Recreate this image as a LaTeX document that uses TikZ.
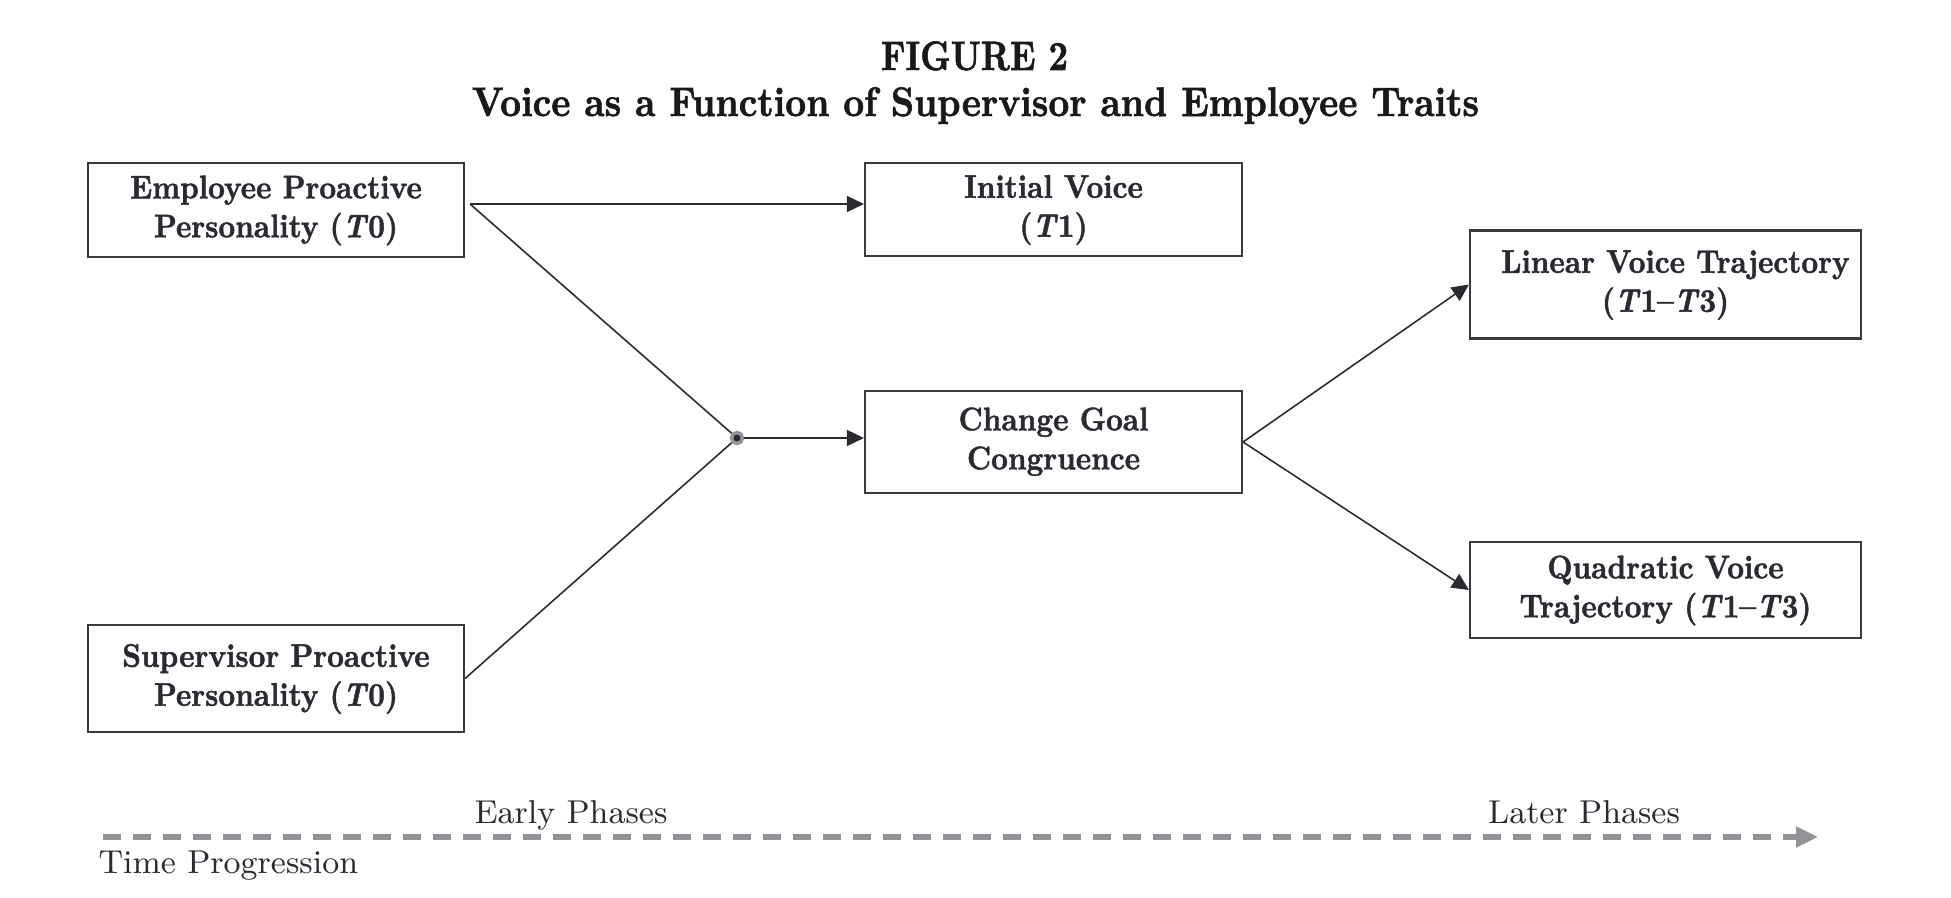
\documentclass[tikz,border=0pt]{standalone}
\usepackage{graphicx}
\usepackage{fontspec}
\usetikzlibrary{arrows.meta}
\newfontfamily\boxfont{lmroman10-bold.otf}[Ligatures=TeX, ItalicFont=lmroman10-bolditalic.otf, RawFeature={embolden=1.5}]
\definecolor{boxline}{HTML}{3A3A40}
\definecolor{inkdark}{HTML}{2A2A32}
\definecolor{timegray}{HTML}{939397}
% two centred lines, a little taller
\newcommand{\boxlines}[1]{\scalebox{1}[1.12]{\begin{tabular}{@{}c@{}}#1\end{tabular}}}
\begin{document}
\begin{tikzpicture}[
  construct/.style={draw=boxline, line width=0.6pt, text=inkdark, inner sep=0pt,
    font=\fontsize{8.3}{9.9}\selectfont\boxfont},
  link/.style={draw=inkdark, line width=0.45pt, -{Triangle[length=1.7mm,width=1.6mm]}},
  plain/.style={draw=inkdark, line width=0.45pt},
  phase/.style={text=inkdark, font=\fontsize{9.4}{11}\selectfont},
  heading/.style={text=black!90, font=\fontsize{9}{11}\selectfont\boxfont},
  timeline/.style={draw=timegray, line width=1.5pt, dash pattern=on 1.8mm off 1.2mm,
    -{Triangle[length=2.2mm,width=2mm]}}
]
\useasboundingbox (0,0) rectangle (19.51,8.97);

% title
\node[heading, anchor=base] (fig) at (9.745,8.27) {\scalebox{1.07}[1.3]{FIGURE 2}};
\node[heading, anchor=base] (ttl) at (9.755,7.81) {\scalebox{1.15}[1.3]{Voice as a Function of Supervisor and Employee Traits}};

% boxes
\node[construct, minimum width=3.76cm, minimum height=0.94cm] (emp) at (2.76,6.87) {\boxlines{Employee Proactive\\Personality (\textit{T}0)}};
\node[construct, minimum width=3.76cm, minimum height=1.07cm] (sup) at (2.76,2.185) {\boxlines{Supervisor Proactive\\Personality (\textit{T}0)}};
\node[construct, minimum width=3.77cm, minimum height=0.93cm] (init) at (10.535,6.875) {\boxlines{Initial Voice\\(\textit{T}1)}};
\node[construct, minimum width=3.77cm, minimum height=1.02cm] (change) at (10.535,4.55) {\boxlines{Change Goal\\Congruence}};
\node[construct, minimum width=3.91cm, minimum height=1.08cm] (lin) at (16.655,6.125) {\boxlines{\hspace*{0.2cm}Linear Voice Trajectory\\(\textit{T}1--\textit{T}3)}};
\node[construct, minimum width=3.91cm, minimum height=0.96cm] (quad) at (16.655,3.07) {\boxlines{Quadratic Voice\\Trajectory (\textit{T}1--\textit{T}3)}};

% junction
\node[circle, fill=inkdark, draw=timegray, line width=0.35mm, inner sep=0pt, minimum size=1.1mm] (jn) at (7.37,4.59) {};
\coordinate (empout) at (4.70,6.93);

\draw[link] (empout) -- (init.west |- empout);
\draw[plain] (empout) -- (jn);
\draw[plain] (sup.east) -- (jn);
\draw[link] (jn) -- (jn -| change.west);
\draw[link] (change.east) -- (lin.west);
\draw[link] (change.east) -- (quad.west);

% time axis
\coordinate (tstart) at (1.03,0.60);
\coordinate (tend) at (18.18,0.60);
\draw[timeline] (tstart) -- (tend);
\node[phase, anchor=base] (early) at (5.71,0.74) {Early Phases};
\node[phase, anchor=base] (later) at (15.84,0.74) {Later Phases};
\node[phase, anchor=base west, inner sep=0pt] (tprog) at (0.98,0.24) {Time Progression};

\end{tikzpicture}
\end{document}
